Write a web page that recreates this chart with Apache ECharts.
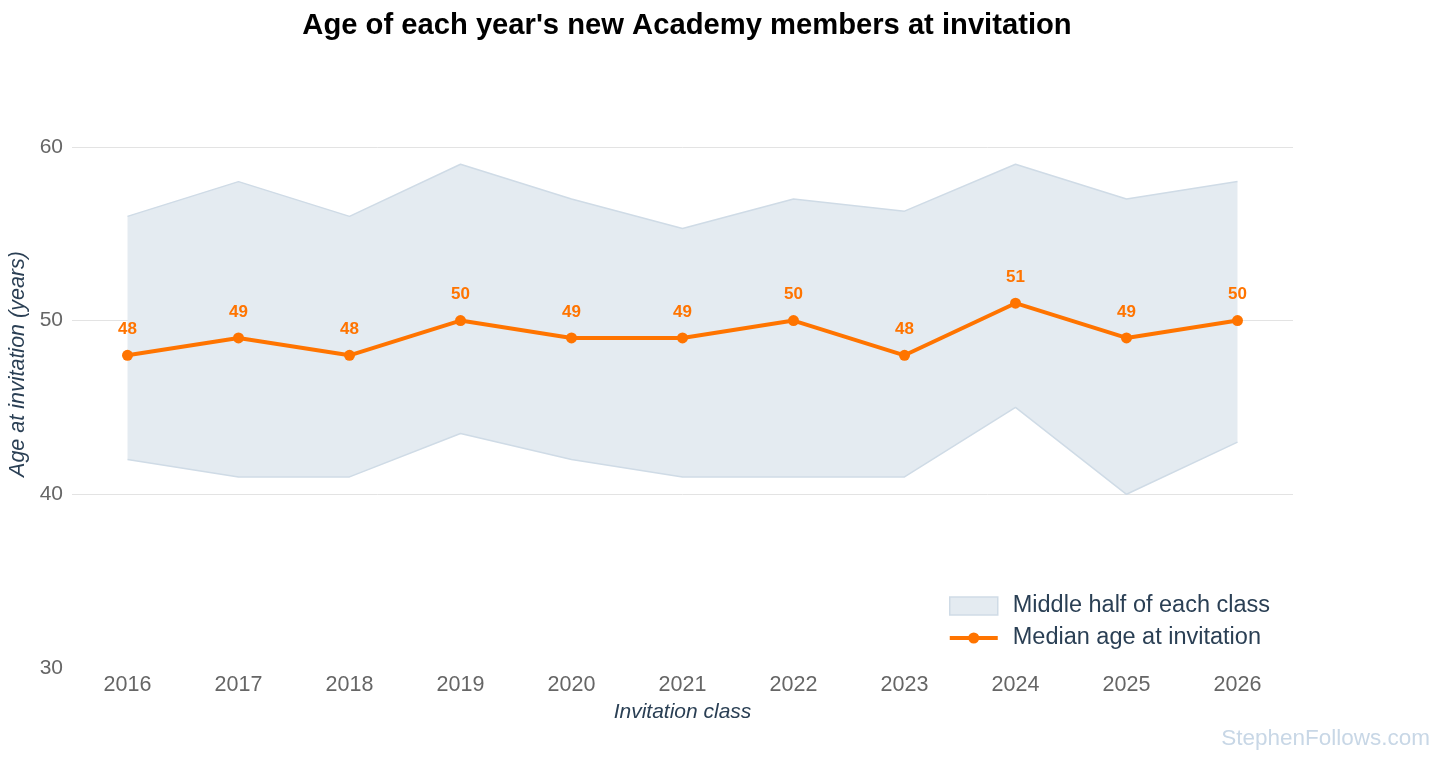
<!DOCTYPE html>
<html><head><meta charset="utf-8">
<script src="https://cdn.jsdelivr.net/npm/echarts@6/dist/echarts.min.js"></script>
<style>html,body{margin:0;padding:0;background:#fff}#c{width:1456px;height:764px}</style>
</head><body><div id="c"></div>
<script>
const years = ['2016','2017','2018','2019','2020','2021','2022','2023','2024','2025','2026'];
const q1 = [42, 41, 41, 43.5, 42, 41, 41, 41, 45, 40, 43];
const q3 = [56, 58, 56, 59, 57, 55.3, 57, 56.3, 59, 57, 58];
const median = [48, 49, 48, 50, 49, 49, 50, 48, 51, 49, 50];
const yTicks = [30, 40, 50, 60];

const spread = q3.map((v, i) => +(v - q1[i]).toFixed(2));
const chart = echarts.init(document.getElementById('c'), null, {renderer: 'canvas'});
const orange = '#ff7400';
const bandFill = '#e4ebf1';
const bandEdge = '#cfdbe6';
const font = 'Liberation Sans, Arial, sans-serif';
const lineIcon = 'path://M0,7.5 L48,7.5 L48,11.5 L0,11.5 Z M18.5,9.5 A5.5,5.5 0 1,1 29.5,9.5 A5.5,5.5 0 1,1 18.5,9.5 Z';
chart.setOption({
  animation: false,
  textStyle: {fontFamily: font},
  title: {
    text: "Age of each year's new Academy members at invitation",
    left: 682, top: 6, textAlign: 'center',
    textStyle: {fontSize: 29.2, fontWeight: 'bold', color: '#000', fontFamily: font}
  },
  grid: {left: 72, right: 163, top: 60, bottom: 96, containLabel: false, outerBoundsMode: 'none'},
  legend: {
    orient: 'vertical', left: 944, top: 589, itemGap: 8,
    itemWidth: 48, itemHeight: 18,
    textStyle: {fontSize: 23.5, color: '#2a3f54', fontFamily: font, padding: [0, 0, 0, 10]},
    data: [
      {name: 'Middle half of each class', icon: 'rect', itemStyle: {color: bandFill, borderColor: bandEdge, borderWidth: 1.5}},
      {name: 'Median age at invitation', icon: lineIcon, itemStyle: {color: orange}}
    ]
  },
  xAxis: {
    type: 'category', data: years, boundaryGap: true,
    name: 'Invitation class', nameLocation: 'middle', nameGap: 34,
    nameTextStyle: {fontSize: 21, fontStyle: 'italic', color: '#2a3f54', fontFamily: font},
    axisLine: {show: false}, axisTick: {show: false},
    axisLabel: {fontSize: 21.5, color: '#666', margin: 6, fontFamily: font}
  },
  yAxis: {
    type: 'value', min: 30, max: 65, interval: 10,
    name: 'Age at invitation (years)', nameLocation: 'middle', nameGap: 40,
    nameTextStyle: {fontSize: 21.5, fontStyle: 'italic', color: '#2a3f54', fontFamily: font},
    axisLine: {show: false}, axisTick: {show: false},
    axisLabel: {fontSize: 21, color: '#666', margin: 9, showMaxLabel: false, fontFamily: font,
      formatter: v => yTicks.includes(v) ? String(v) : ''},
    splitLine: {show: true, lineStyle: {color: ['rgba(0,0,0,0)', '#e3e3e3', '#e3e3e3', '#e3e3e3', 'rgba(0,0,0,0)'], width: 1}}
  },
  graphic: [{
    type: 'text', right: 26, top: 727,
    style: {text: 'StephenFollows.com', fontSize: 22.5, fill: '#c8d7e6', fontFamily: font}
  }],
  series: [
    {
      name: 'band-low', type: 'line', stack: 'band', data: q1,
      symbol: 'none', lineStyle: {color: bandEdge, width: 1.5}, z: 1, silent: true
    },
    {
      name: 'Middle half of each class', type: 'line', stack: 'band', data: spread,
      symbol: 'none', lineStyle: {color: bandEdge, width: 1.5},
      itemStyle: {color: bandFill, borderColor: bandEdge},
      areaStyle: {color: bandFill, opacity: 1}, z: 1, silent: true
    },
    {
      name: 'Median age at invitation', type: 'line', data: median,
      symbol: 'circle', symbolSize: 11,
      lineStyle: {color: orange, width: 4}, itemStyle: {color: orange},
      label: {show: true, position: 'top', distance: 12, fontSize: 17, fontWeight: 'bold', color: orange, fontFamily: font},
      z: 5
    }
  ]
});
</script></body></html>
